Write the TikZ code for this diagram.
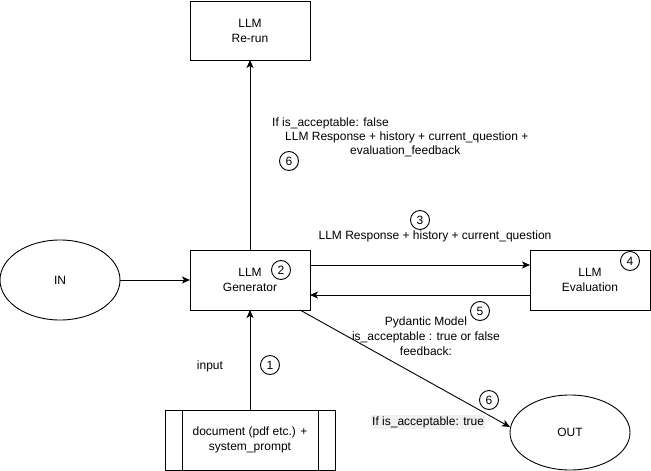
\documentclass[tikz,border=0pt]{standalone}
\usepackage{fontspec}
\setmainfont{Liberation Sans}
\usetikzlibrary{arrows.meta,shapes.geometric}
\begin{document}
\begin{tikzpicture}[x=1pt,y=-1pt,
  every node/.style={font=\fontsize{12}{15}\selectfont},
  box/.style={draw,line width=0.9pt,inner sep=0pt,outer sep=0pt,minimum width=120pt,minimum height=60pt,align=center},
  oval/.style={draw,ellipse,line width=0.9pt,inner sep=0pt,outer sep=0pt,minimum width=120pt},
  num/.style={draw,circle,line width=0.9pt,minimum size=19pt,inner sep=0pt},
  lbl/.style={inner sep=0pt,align=center},
  arr/.style={line width=0.9pt,-{Stealth[length=8pt,width=7pt,inset=2pt]}}]
\useasboundingbox (0,0) rectangle (651,471);
% nodes
\node[box,minimum height=59pt] (rerun) at (250,30.5) {LLM\\Re-run};
\node[box] (gen) at (250,280) {LLM\\Generator};
\node[box] (eval) at (590,280) {LLM\\Evaluation};
\node[box,minimum width=170pt] (doc) at (250,440) {document (pdf etc.) +\\system\_prompt};
\draw[line width=0.9pt] ([xshift=17pt]doc.north west) -- ([xshift=17pt]doc.south west);
\draw[line width=0.9pt] ([xshift=-17pt]doc.north east) -- ([xshift=-17pt]doc.south east);
\node[oval,minimum height=80pt] (in) at (60,280) {IN};
\node[oval,minimum height=75pt] (out) at (570,432.5) {OUT};
% connectors
\draw[arr] (in.east) -- (gen.west);
\draw[arr] (doc.north) -- (gen.south);
\draw[arr] (gen.north) -- (rerun.south);
\draw[arr] ([yshift=15pt]gen.east) -- ([yshift=15pt]eval.west);
\draw[arr] ([yshift=-15pt]eval.west) -- ([yshift=-15pt]gen.east);
\draw[arr] ([xshift=50pt]gen.south) -- ([yshift=5.5pt]out.west);
% labels
\node[lbl,anchor=west] (f1) at (272,123) {If is\_acceptable: false};
\node[lbl,anchor=west] (f2) at (285,137.5) {LLM Response + history + current\_question +};
\node[lbl,anchor=west] (f3) at (350,151.5) {evaluation\_feedback};
\node[num] (n6a) at (289,161) {6};
\node[num] (n3) at (420,220) {3};
\node[lbl] (q3) at (435,236) {LLM Response + history + current\_question};
\node[num] (n2) at (281,270) {2};
\node[num] (n4) at (630,261) {4};
\node[num] (n5) at (480,311) {5};
\node[lbl] (pyd) at (426,336.5) {Pydantic Model\\is\_acceptable : true or false\\feedback:};
\node[lbl] (inp) at (210,366) {input};
\node[num] (n1) at (270,365) {1};
\node[num] (n6b) at (489,400) {6};
\node[lbl,anchor=west,fill=black!6,inner sep=1pt] (tru) at (371,422) {If is\_acceptable: true};
\end{tikzpicture}
\end{document}
